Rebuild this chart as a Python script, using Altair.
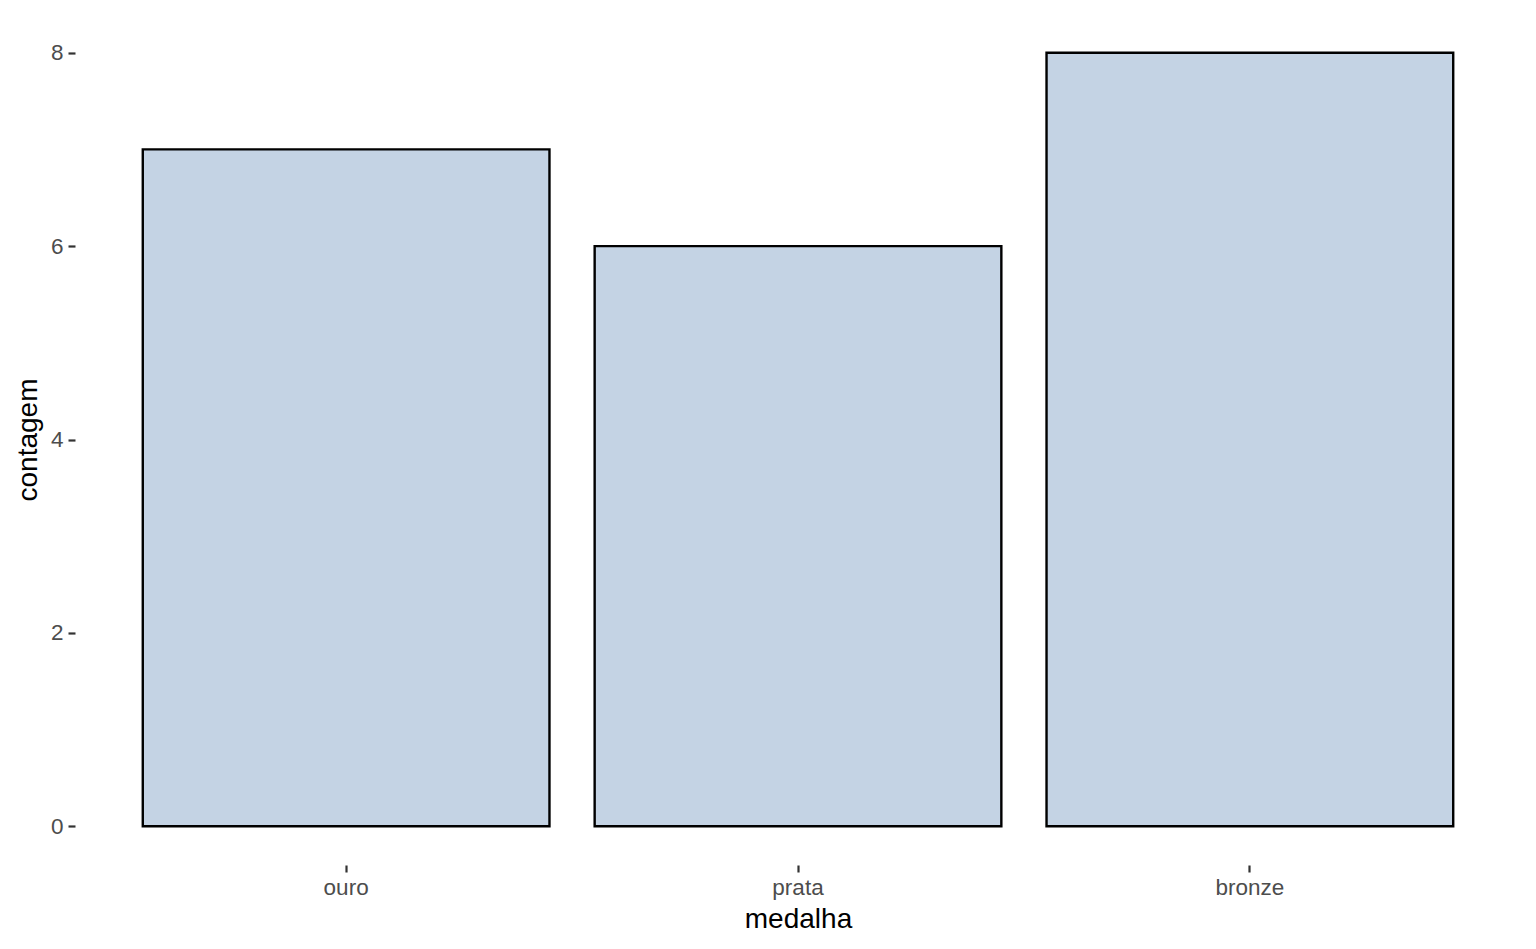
import altair as alt
import pandas as pd

medalhas = ["ouro", "prata", "bronze"]
contagens = [7, 6, 8]
y_ticks = [0, 2, 4, 6, 8]

df = pd.DataFrame({"medalha": medalhas, "contagem": contagens})

chart = alt.Chart(df).mark_bar(
    fill="#C4D3E4", stroke="black", strokeWidth=2.4
).encode(
    x=alt.X("medalha:N", sort=medalhas,
            scale=alt.Scale(paddingInner=0.1, paddingOuter=0.15),
            axis=alt.Axis(title="medalha", labelAngle=0, domain=False,
                          tickColor="#333333", tickSize=7, tickWidth=2.2,
                          labelPadding=4, labelFontSize=22.5, labelColor="#4D4D4D",
                          labelFont="Liberation Sans", titleFont="Liberation Sans",
                          titleFontSize=28, titleFontWeight="normal", titleColor="black",
                          titlePadding=7, grid=False)),
    y=alt.Y("contagem:Q",
            scale=alt.Scale(domain=[-0.4, 8.4], nice=False, zero=False),
            axis=alt.Axis(title="contagem", values=y_ticks, domain=False,
                          tickColor="#333333", tickSize=7, tickWidth=2.2,
                          labelPadding=5, labelFontSize=22.5, labelColor="#4D4D4D",
                          labelFont="Liberation Sans", titleFont="Liberation Sans",
                          titleFontSize=28, titleFontWeight="normal", titleColor="black",
                          titlePadding=8, grid=False)),
    y2=alt.datum(0),
).properties(
    width=1446, height=851,
    autosize=alt.AutoSizeParams(type="none"),
    padding={"left": 67, "top": 6, "right": 7, "bottom": 76},
).configure_view(stroke=None)

chart.save("out.html", embed_options={"renderer": "svg", "actions": False})
